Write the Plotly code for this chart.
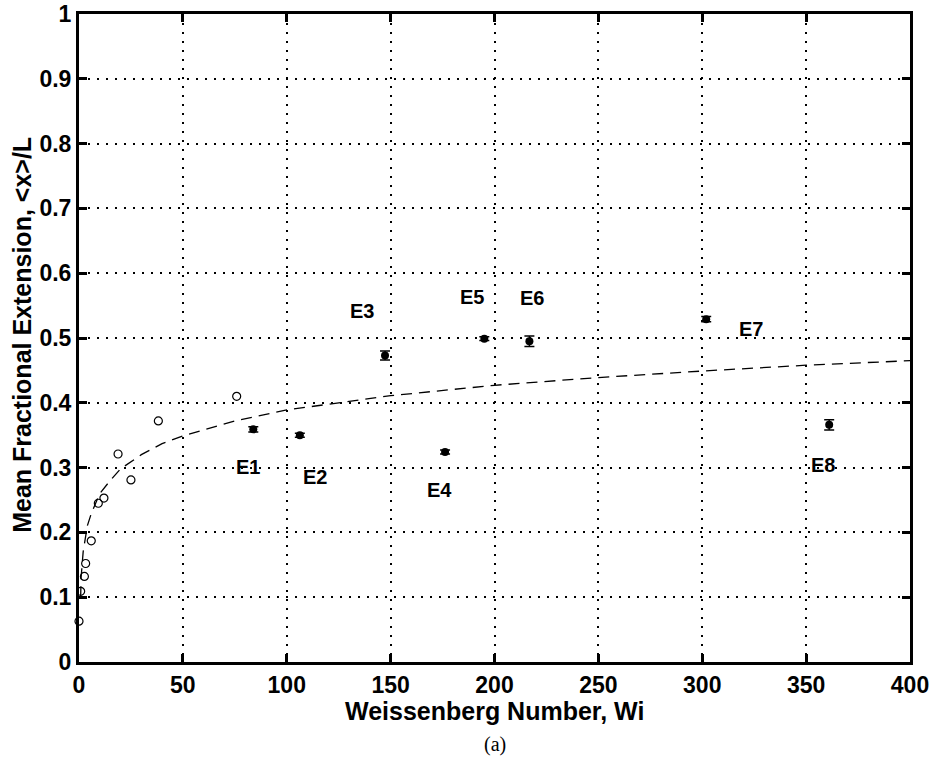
import plotly.graph_objects as go

# Open-circle data (low Wi)
open_wi = [0.0, 0.8, 2.6, 3.2, 5.9, 9.3, 12.0, 18.8, 25.0, 38.2, 75.9]
open_ext = [0.063, 0.109, 0.132, 0.152, 0.187, 0.245, 0.253, 0.321, 0.281, 0.372, 0.410]

# Filled points E1..E8 with error bars
e_labels = ["E1", "E2", "E3", "E4", "E5", "E6", "E7", "E8"]
e_wi = [83.9, 106.3, 147.3, 176.2, 195.1, 216.8, 301.9, 361.1]
e_ext = [0.359, 0.350, 0.473, 0.324, 0.499, 0.495, 0.529, 0.366]
e_err = [0.004, 0.003, 0.007, 0.003, 0.003, 0.008, 0.004, 0.008]

# Label positions
lab_wi = [81.5, 113.6, 136.1, 173.5, 189.0, 217.9, 323.5, 358.0]
lab_ext = [0.301, 0.286, 0.542, 0.265, 0.564, 0.562, 0.514, 0.304]

# Dashed trend curve
fit_wi = [0.8, 1, 2, 4, 6, 10, 15, 20, 30, 40, 50, 75, 100, 150, 200, 250, 300, 350, 400]
fit_ext = [0.10, 0.13, 0.17, 0.21, 0.23, 0.26, 0.28, 0.298, 0.32, 0.337, 0.349, 0.372,
           0.389, 0.411, 0.427, 0.439, 0.449, 0.458, 0.465]

FONT = "Liberation Sans, Arial, sans-serif"

fig = go.Figure()
fig.add_trace(go.Scatter(x=fit_wi, y=fit_ext, mode="lines",
                         line=dict(color="black", width=1.3, dash="11px,7px"),
                         showlegend=False, hoverinfo="skip"))
fig.add_trace(go.Scatter(x=open_wi, y=open_ext, mode="markers",
                         marker=dict(symbol="circle-open", size=8, color="black",
                                     line=dict(width=1.2, color="black")),
                         showlegend=False, cliponaxis=False))
fig.add_trace(go.Scatter(x=e_wi, y=e_ext, mode="markers",
                         marker=dict(symbol="circle", size=8, color="black"),
                         error_y=dict(type="data", array=e_err, visible=True,
                                      color="black", thickness=1.5, width=5),
                         showlegend=False))

for t, x, y in zip(e_labels, lab_wi, lab_ext):
    fig.add_annotation(x=x, y=y, text="<b>%s</b>" % t, showarrow=False,
                       font=dict(family=FONT, size=20, color="black"))

# Axis titles as annotations for precise placement
fig.add_annotation(xref="paper", yref="paper", x=0.5, y=-0.076, yanchor="middle",
                   text="<b>Weissenberg Number, Wi</b>", showarrow=False,
                   font=dict(family=FONT, size=25, color="black"))
fig.add_annotation(xref="paper", yref="paper", x=-0.0685, y=0.505, xanchor="center",
                   yanchor="middle", textangle=-90,
                   text="<b>Mean Fractional Extension, &lt;x&gt;/L</b>", showarrow=False,
                   font=dict(family=FONT, size=25, color="black"))
fig.add_annotation(xref="paper", yref="paper", x=0.5, y=-0.128, yanchor="middle",
                   text="(a)", showarrow=False,
                   font=dict(family="Liberation Serif, Times New Roman, serif", size=20,
                             color="black"))

axis_common = dict(
    showline=True, linecolor="black", linewidth=3, mirror="ticks",
    ticks="inside", ticklen=8, tickwidth=3, tickcolor="black",
    showgrid=True, gridcolor="black", gridwidth=1.5, griddash="2px,7px",
    zeroline=False, automargin=False, ticklabeloverflow="allow",
    tickfont=dict(family=FONT, size=23, color="black", weight="bold"),
)

fig.update_xaxes(range=[0, 400], tick0=0, dtick=50, **axis_common)
fig.update_yaxes(range=[0, 1], tick0=0, dtick=0.1, **axis_common)

fig.update_layout(
    width=934, height=770,
    margin=dict(l=79, r=24, t=14, b=108),
    plot_bgcolor="white", paper_bgcolor="white",
)

fig.write_html("out.html",
               config={"displayModeBar": False},
               post_script="document.body.style.margin='0';"
                           "document.body.style.overflow='hidden';")
